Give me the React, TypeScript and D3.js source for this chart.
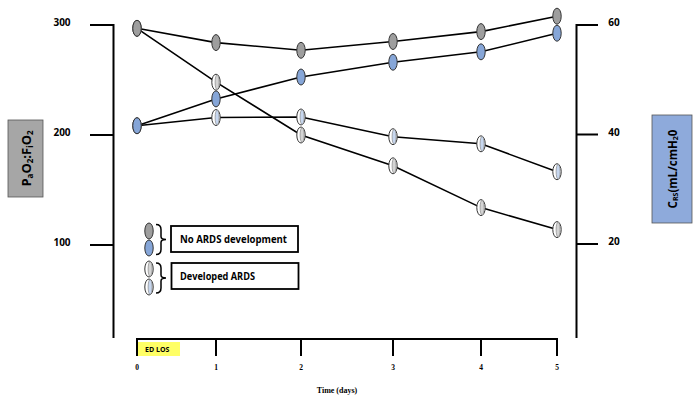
import React from "react";
import * as d3 from "d3";

const days = [0, 1, 2, 3, 4, 5];
const noArdsPF = [297, 284, 277, 285, 294, 308];
const noArdsCRS = [41.6, 46.5, 50.5, 53.2, 55.1, 58.5];
const ardsPF = [297, 248, 200, 172, 134, 114];
const ardsCRS = [41.6, 43.1, 43.2, 39.6, 38.3, 33.2];
const leftTicks = [100, 200, 300];
const rightTicks = [20, 40, 60];
const legendLabels = ["No ARDS development", "Developed ARDS"];

const W = 699;
const H = 403;
const dayPos = [137, 216, 301, 393, 481, 557];
const x = d3.scaleLinear().domain(days).range(dayPos);
const yL = d3.scaleLinear().domain([100, 300]).range([245, 25]);
const yR = d3.scaleLinear().domain([20, 60]).range([244, 25]);

const GREY = "#9e9e9e";
const BLUE = "#86a6d8";
const LGREY = "#d4d4d4";
const LBLUE = "#c7d7ef";
const STROKE = "#333";
const sans = "'Open Sans', 'Liberation Sans', sans-serif";
const serif = "'Liberation Serif', 'DejaVu Serif', serif";

function Solid({ cx, cy, fill }: { cx: number; cy: number; fill: string }) {
  return <ellipse cx={cx} cy={cy} rx={4.2} ry={8} fill={fill} stroke={STROKE} strokeWidth={1} />;
}
function Hollow({ cx, cy, fill }: { cx: number; cy: number; fill: string }) {
  return (
    <g>
      <ellipse cx={cx} cy={cy} rx={4.2} ry={8} fill="#fff" stroke={STROKE} strokeWidth={1} />
      <ellipse cx={cx + 1.1} cy={cy} rx={2} ry={7.5} fill={fill} stroke="#777" strokeWidth={0.6} />
    </g>
  );
}

export default function App() {
  const lineL = d3.line<number>().x((_, i) => x(days[i])).y((d) => yL(d));
  const lineR = d3.line<number>().x((_, i) => x(days[i])).y((d) => yR(d));
  const xAxisY = 339;
  return (
    <svg width={W} height={H} style={{ position: "absolute", left: 0, top: 0, background: "#fff" }}>
      {/* left axis */}
      <line x1={113.5} x2={113.5} y1={yL(300) - 1} y2={338} stroke="#000" strokeWidth={2} />
      {leftTicks.map((t) => (
        <g key={t}>
          <line x1={90} x2={113.5} y1={yL(t)} y2={yL(t)} stroke="#000" strokeWidth={2} />
          <text x={62} y={yL(t) - 3} textAnchor="middle" dominantBaseline="central" fontFamily={sans} fontWeight="bold" fontSize={10}>
            {t}
          </text>
        </g>
      ))}
      {/* right axis */}
      <line x1={576.5} x2={576.5} y1={yR(60) - 1} y2={338} stroke="#000" strokeWidth={2} />
      {rightTicks.map((t) => (
        <g key={t}>
          <line x1={576.5} x2={598} y1={yR(t)} y2={yR(t)} stroke="#000" strokeWidth={2} />
          <text x={614} y={yR(t) - 3} textAnchor="middle" dominantBaseline="central" fontFamily={sans} fontWeight="bold" fontSize={10}>
            {t}
          </text>
        </g>
      ))}
      {/* x axis */}
      <rect x={x(0)} y={342} width={43} height={14} fill="#ffff66" />
      <text x={x(0) + 8} y={352} fontFamily={sans} fontWeight="bold" fontSize={7}>ED LOS</text>
      <line x1={x(0) - 1} x2={x(5) + 1} y1={xAxisY} y2={xAxisY} stroke="#000" strokeWidth={2} />
      {days.map((d) => (
        <g key={d}>
          <line x1={x(d)} x2={x(d)} y1={xAxisY} y2={356} stroke="#000" strokeWidth={2} />
          <text x={x(d)} y={367} textAnchor="middle" dominantBaseline="central" fontFamily={serif} fontWeight="bold" fontSize={7.5} fill="#000">
            {d}
          </text>
        </g>
      ))}
      <text x={337} y={390} textAnchor="middle" dominantBaseline="central" fontFamily={serif} fontWeight="bold" fontSize={8}>
        Time (days)
      </text>
      {/* lines */}
      <path d={lineL(noArdsPF) || ""} fill="none" stroke="#000" strokeWidth={1.6} />
      <path d={lineR(noArdsCRS) || ""} fill="none" stroke="#000" strokeWidth={1.6} />
      <path d={lineL(ardsPF) || ""} fill="none" stroke="#000" strokeWidth={1.6} />
      <path d={lineR(ardsCRS) || ""} fill="none" stroke="#000" strokeWidth={1.6} />
      {/* markers */}
      {ardsPF.map((v, i) => <Hollow key={"ap" + i} cx={x(days[i])} cy={yL(v)} fill={LGREY} />)}
      {ardsCRS.map((v, i) => <Hollow key={"ac" + i} cx={x(days[i])} cy={yR(v)} fill={LBLUE} />)}
      {noArdsPF.map((v, i) => <Solid key={"np" + i} cx={x(days[i])} cy={yL(v)} fill={GREY} />)}
      {noArdsCRS.map((v, i) => <Solid key={"nc" + i} cx={x(days[i])} cy={yR(v)} fill={BLUE} />)}
      {/* axis title boxes */}
      <rect x={8} y={120} width={35} height={77} fill="#a6a6a6" stroke="#555" strokeWidth={0.8} />
      <text transform="translate(26,158.5) rotate(-90)" textAnchor="middle" dominantBaseline="central" fontFamily={sans} fontWeight="bold" fontSize={13}>
        P<tspan fontSize={8} dy={3}>a</tspan><tspan dy={-3}>O</tspan><tspan fontSize={8} dy={3}>2</tspan><tspan dy={-3}>:F</tspan><tspan fontSize={8} dy={3}>i</tspan><tspan dy={-3}>O</tspan><tspan fontSize={8} dy={3}>2</tspan>
      </text>
      <rect x={652} y={115} width={40} height={108} fill="#8eaadb" stroke="#555" strokeWidth={0.8} />
      <text transform="translate(672,169) rotate(-90)" textAnchor="middle" dominantBaseline="central" fontFamily={sans} fontWeight="bold" fontSize={11.5}>
        C<tspan fontSize={7} dy={3}>RS</tspan><tspan dy={-3}>(mL/cmH</tspan><tspan fontSize={7} dy={3}>2</tspan><tspan dy={-3}>0</tspan>
      </text>
      {/* legend */}
      <Solid cx={149} cy={231} fill={GREY} />
      <Solid cx={149} cy={248} fill={BLUE} />
      <Hollow cx={149} cy={269} fill={LGREY} />
      <Hollow cx={149} cy={287} fill={LBLUE} />
      {[239.5, 278].map((cy, i) => (
        <path
          key={i}
          d={`M156,${cy - 15} Q161,${cy - 15} 161,${cy - 10} L161,${cy - 3} Q161,${cy} 166,${cy} Q161,${cy} 161,${cy + 3} L161,${cy + 10} Q161,${cy + 15} 156,${cy + 15}`}
          fill="none"
          stroke="#000"
          strokeWidth={1.5}
        />
      ))}
      <rect x={171} y={226} width={127} height={26} fill="#fff" stroke="#000" strokeWidth={1.8} />
      <rect x={171.5} y={263} width={127} height={26} fill="#fff" stroke="#000" strokeWidth={1.8} />
      <text x={180} y={239} dominantBaseline="central" fontFamily={sans} fontWeight="bold" fontSize={10.5} textLength={107} lengthAdjust="spacingAndGlyphs">
        {legendLabels[0]}
      </text>
      <text x={180} y={276} dominantBaseline="central" fontFamily={sans} fontWeight="bold" fontSize={10.5} textLength={75} lengthAdjust="spacingAndGlyphs">
        {legendLabels[1]}
      </text>
    </svg>
  );
}
